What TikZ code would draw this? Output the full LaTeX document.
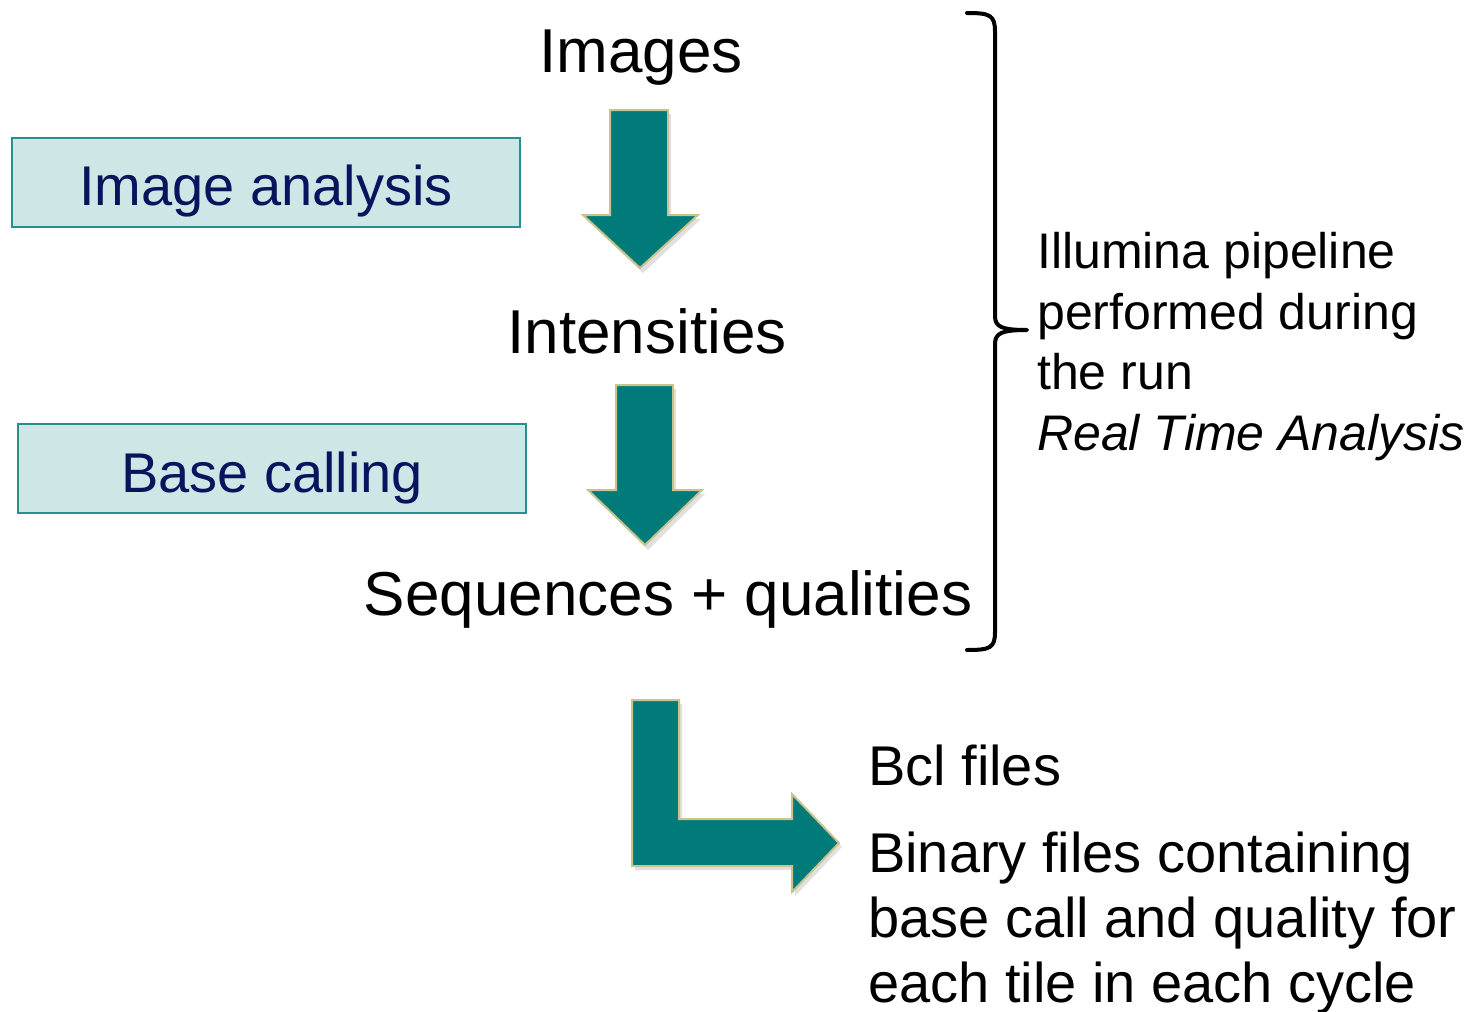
\documentclass[tikz,border=0pt]{standalone}
\usepackage{fontspec}
\setmainfont{Liberation Sans}
\definecolor{arrowteal}{RGB}{0,123,122}
\definecolor{arrowedge}{RGB}{200,196,140}
\definecolor{boxfill}{RGB}{205,230,230}
\definecolor{boxedge}{RGB}{40,143,143}
\definecolor{navy}{RGB}{8,20,92}
\begin{document}
\begin{tikzpicture}[x=1pt,y=-1pt,
  bigtxt/.style={inner sep=0pt,anchor=base,font=\fontsize{62}{70}\selectfont},
  boxtxt/.style={inner sep=0pt,anchor=base,text=navy,font=\fontsize{56}{64}\selectfont},
  procbox/.style={draw=boxedge,fill=boxfill,line width=2pt},
  sidetxt/.style={inner sep=0pt,anchor=base west,font=\fontsize{50}{61}\selectfont},
  outtxt/.style={inner sep=0pt,anchor=base west,font=\fontsize{56}{65}\selectfont},
  blockarrow/.style={fill=arrowteal,draw=arrowedge,line width=2pt,line join=miter},
  shade/.style={fill=black,opacity=0.12,draw=none}]
\useasboundingbox (0,0) rectangle (1481,1012);

% boxes
\draw[procbox] (12,138) rectangle (520,227);
\node[boxtxt] (ia) at (266,205) {Image analysis};
\draw[procbox] (18,424) rectangle (526,513);
\node[boxtxt] (bc) at (272,492) {Base calling};

% main texts
\node[bigtxt] (img) at (641,72) {Images};
\node[bigtxt] (int) at (647,353) {Intensities};
\node[bigtxt] (seq) at (668,615) {Sequences + qualities};

% arrow 1
\fill[shade] (613,114) -- (671,114) -- (671,219) -- (701,219) -- (643,273) -- (586,219) -- (613,219) -- cycle;
\draw[blockarrow] (610,110) -- (668,110) -- (668,215) -- (698,215) -- (640,268) -- (583,215) -- (610,215) -- cycle;
% arrow 2
\fill[shade] (619,389) -- (676,389) -- (676,494) -- (705,494) -- (648,550) -- (591,494) -- (619,494) -- cycle;
\draw[blockarrow] (616,385) -- (673,385) -- (673,490) -- (702,490) -- (645,545) -- (588,490) -- (616,490) -- cycle;
% L arrow
\fill[shade] (635,704) -- (682,704) -- (682,823) -- (795,823) -- (795,798) -- (842,847) -- (795,896) -- (795,870) -- (635,870) -- cycle;
\draw[blockarrow] (632,700) -- (679,700) -- (679,819) -- (792,819) -- (792,794) -- (839,843) -- (792,892) -- (792,866) -- (632,866) -- cycle;

% brace
\coordinate (btop) at (967,13);
\coordinate (btip) at (1027,330);
\coordinate (bbot) at (967,650);
\draw[line width=4pt,line cap=round,line join=round]
  (btop) .. controls (990,13) and (995,15) .. (995,32) -- (995,316)
  .. controls (995,327) and (1002,330) .. (btip)
  .. controls (1002,330) and (995,333) .. (995,344) -- (995,632)
  .. controls (995,648) and (990,650) .. (bbot);

% side text
\node[sidetxt] (s1) at (1037,268) {Illumina pipeline};
\node[sidetxt] (s2) at (1037,329) {performed during};
\node[sidetxt] (s3) at (1037,389) {the run};
\node[sidetxt] (s4) at (1037,450) {\itshape Real Time Analysis};

% output text
\node[outtxt] (o1) at (868,785) {Bcl files};
\node[outtxt] (o2) at (868,872) {Binary files containing};
\node[outtxt] (o3) at (868,937) {base call and quality for};
\node[outtxt] (o4) at (868,1002) {each tile in each cycle};
\end{tikzpicture}
\end{document}
